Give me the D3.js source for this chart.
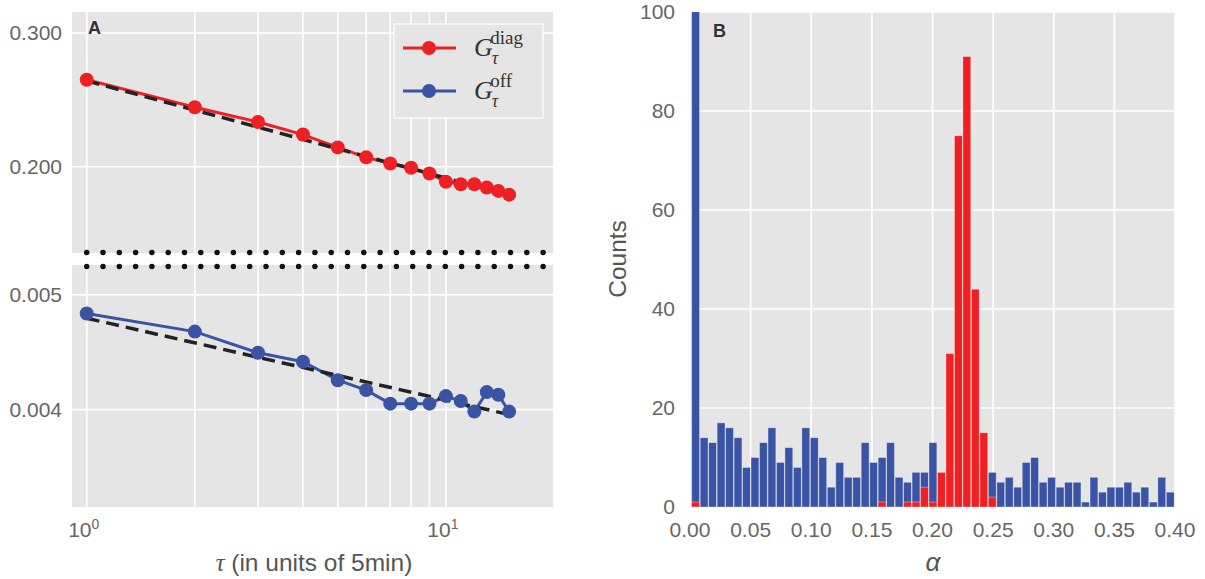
<!DOCTYPE html>
<html>
<head>
<meta charset="utf-8">
<script src="https://cdn.jsdelivr.net/npm/d3@7"></script>
<style>
  body { margin: 0; background: #fff; }
  svg text { font-family: "Liberation Sans", Arial, sans-serif; }
</style>
</head>
<body>
<div id="chart"></div>
<script>
// ---- data ----
// panel A: G_tau against tau (log-log)
var tau = [1, 2, 3, 4, 5, 6, 7, 8, 9, 10, 11, 12, 13, 14, 15];
var gDiag = [0.2603, 0.2395, 0.2291, 0.2205, 0.2121, 0.2058, 0.2020, 0.1994,
             0.1960, 0.1911, 0.1897, 0.1897, 0.1878, 0.1859, 0.1838];
var gOff = [0.004823, 0.004656, 0.004468, 0.004391, 0.004236, 0.004155, 0.004047, 0.004047,
            0.004047, 0.004107, 0.004068, 0.003985, 0.004139, 0.004118, 0.003985];
// power-law fits, end points
var fitTau = [1, 15];
var fitDiag = [0.2595, 0.1835];
var fitOff = [0.004779, 0.003962];
var xTicksA = [1, 10];
var xGridA = [1, 2, 3, 4, 5, 6, 7, 8, 9, 10, 20];
var yTicksTop = [0.3, 0.2];
var yTicksBottom = [0.005, 0.004];

// panel B: histogram of alpha
var binStart = 0.0014, binWidth = 0.00699;
var countsOff = [135, 14, 13, 17, 16, 14, 8, 10, 13, 16, 9, 12, 8, 16, 14, 10, 4, 9, 6, 6,
                 13, 9, 10, 13, 6, 5, 7, 7, 13, 0, 0, 0, 0, 0, 0, 7, 5, 6, 4, 9,
                 10, 5, 6, 4, 5, 5, 1, 6, 3, 4, 4, 5, 3, 4, 1, 6, 3];
var countsDiag = [1, 0, 0, 0, 0, 0, 0, 0, 0, 0, 0, 0, 0, 0, 0, 0, 0, 0, 0, 0,
                  0, 0, 1, 0, 0, 1, 1, 4, 1, 7, 31, 75, 91, 44, 15, 2, 0, 0, 0, 0,
                  0, 0, 0, 0, 0, 0, 0, 0, 0, 0, 0, 0, 0, 0, 0, 0, 0];
var xTicksB = [0, 0.05, 0.10, 0.15, 0.20, 0.25, 0.30, 0.35, 0.40];
var yTicksB = [0, 20, 40, 60, 80, 100];

var red = "#ee2024", blue = "#3a53a4", bg = "#e5e5e5", tickColor = "#666";

var svg = d3.select("#chart").append("svg")
  .attr("width", 1205)
  .attr("height", 579);

// ---- panel A ----
var x = d3.scaleLog().domain([0.91, 20]).range([72, 554]);
var yTop = d3.scaleLog().domain([0.154, 0.3197]).range([253, 12]);
var yBot = d3.scaleLog().domain([0.00331, 0.0053]).range([507, 265]);

function drawSub(y, ticks, fmt, fit, vals, color) {
  var r = y.range();
  svg.append("rect")
    .attr("x", 72).attr("y", r[1])
    .attr("width", 554 - 72).attr("height", r[0] - r[1])
    .attr("fill", bg);
  svg.append("g").selectAll("line").data(xGridA).enter().append("line")
    .attr("x1", d => x(d)).attr("x2", d => x(d))
    .attr("y1", r[1]).attr("y2", r[0])
    .attr("stroke", "#fff").attr("stroke-width", 1.7);
  svg.append("g").selectAll("line").data(ticks).enter().append("line")
    .attr("x1", 72).attr("x2", 554)
    .attr("y1", d => y(d)).attr("y2", d => y(d))
    .attr("stroke", "#fff").attr("stroke-width", 1.7);
  svg.append("g").selectAll("text").data(ticks).enter().append("text")
    .attr("x", 62).attr("y", d => y(d) + 7)
    .attr("text-anchor", "end")
    .attr("font-size", 21).attr("fill", tickColor)
    .text(fmt);

  var line = d3.line().x((d, i) => x(tau[i])).y(d => y(d));
  svg.append("path").datum(vals)
    .attr("d", line)
    .attr("fill", "none").attr("stroke", color).attr("stroke-width", 3);
  svg.append("path").datum(fit)
    .attr("d", d3.line().x((d, i) => x(fitTau[i])).y(d => y(d)))
    .attr("fill", "none").attr("stroke", "#222").attr("stroke-width", 3.5)
    .attr("stroke-dasharray", "13,7");
  svg.append("g").selectAll("circle").data(vals).enter().append("circle")
    .attr("cx", (d, i) => x(tau[i])).attr("cy", d => y(d))
    .attr("r", 7).attr("fill", color);
}

drawSub(yTop, yTicksTop, d3.format(".3f"), fitDiag, gDiag, red);
drawSub(yBot, yTicksBottom, d3.format(".3f"), fitOff, gOff, blue);

// dotted break marks
[252.5, 266.5].forEach(function(yy) {
  svg.append("line")
    .attr("x1", 86.7).attr("x2", 554).attr("y1", yy).attr("y2", yy)
    .attr("stroke", "#111").attr("stroke-width", 5.5)
    .attr("stroke-linecap", "round")
    .attr("stroke-dasharray", "0,16.3");
});

// x tick labels 10^0, 10^1
var xl = svg.append("g").selectAll("text").data(xTicksA).enter().append("text")
  .attr("x", d => x(d) - 3).attr("y", 537)
  .attr("text-anchor", "middle")
  .attr("font-size", 21).attr("fill", tickColor);
xl.append("tspan").text("10");
xl.append("tspan").attr("dy", -8).attr("font-size", 14)
  .text(d => Math.round(Math.log10(d)));

var xlab = svg.append("text")
  .attr("x", 314).attr("y", 571)
  .attr("text-anchor", "middle")
  .attr("font-size", 24.5).attr("fill", "#555");
xlab.append("tspan").attr("font-family", "Liberation Serif").attr("font-style", "italic").text("τ");
xlab.append("tspan").text(" (in units of 5min)");

svg.append("text").attr("x", 88).attr("y", 34)
  .attr("font-size", 18).attr("font-weight", "bold").attr("fill", "#333")
  .text("A");

// legend
var leg = svg.append("g");
leg.append("rect").attr("x", 394).attr("y", 24).attr("width", 149).attr("height", 94)
  .attr("fill", bg).attr("stroke", "#fff").attr("stroke-width", 1.2);
[{c: red, s: "diag", y: 48}, {c: blue, s: "off", y: 91}].forEach(function(e) {
  leg.append("line").attr("x1", 403).attr("x2", 456).attr("y1", e.y).attr("y2", e.y)
    .attr("stroke", e.c).attr("stroke-width", 3);
  leg.append("circle").attr("cx", 429).attr("cy", e.y).attr("r", 7).attr("fill", e.c);
  var t = leg.append("text").attr("x", 474).attr("y", e.y + 8)
    .attr("font-size", 26).attr("fill", "#333");
  t.append("tspan").attr("font-family", "Liberation Serif").attr("font-style", "italic").text("G");
  t.append("tspan").attr("font-family", "Liberation Serif").attr("font-style", "italic")
    .attr("font-size", 18).attr("dx", -1).attr("dy", 8).text("τ");
  t.append("tspan").attr("font-family", "Liberation Serif")
    .attr("font-size", 19).attr("dx", -8).attr("dy", -20).text(e.s);
});

// ---- panel B ----
var xb = d3.scaleLinear().domain([0, 0.4]).range([690, 1175]);
var yb = d3.scaleLinear().domain([0, 100]).range([507, 12]);

svg.append("clipPath").attr("id", "clipB").append("rect")
  .attr("x", 690).attr("y", 12).attr("width", 485).attr("height", 495);
svg.append("rect")
  .attr("x", 690).attr("y", 12).attr("width", 485).attr("height", 495)
  .attr("fill", bg);
svg.append("g").selectAll("line").data(xTicksB).enter().append("line")
  .attr("x1", d => xb(d)).attr("x2", d => xb(d)).attr("y1", 12).attr("y2", 507)
  .attr("stroke", "#fff").attr("stroke-width", 1.7);
svg.append("g").selectAll("line").data(yTicksB).enter().append("line")
  .attr("x1", 690).attr("x2", 1175).attr("y1", d => yb(d)).attr("y2", d => yb(d))
  .attr("stroke", "#fff").attr("stroke-width", 1.7);

var barW = xb(binWidth) - xb(0);
var bars = svg.append("g").attr("clip-path", "url(#clipB)");
function drawBars(counts, color) {
  bars.append("g").selectAll("rect").data(counts).enter().append("rect")
    .attr("x", (d, i) => xb(binStart + i * binWidth))
    .attr("y", d => yb(d))
    .attr("width", barW - 0.6)
    .attr("height", d => yb(0) - yb(d))
    .attr("fill", color)
    .attr("stroke", "rgba(255,255,255,0.45)").attr("stroke-width", 0.8)
    .attr("display", d => d > 0 ? null : "none");
}
drawBars(countsOff, blue);
drawBars(countsDiag, red);

svg.append("g").selectAll("text").data(yTicksB).enter().append("text")
  .attr("x", 675).attr("y", d => yb(d) + 7)
  .attr("text-anchor", "end").attr("font-size", 21).attr("fill", tickColor)
  .text(d => d);
svg.append("g").selectAll("text").data(xTicksB).enter().append("text")
  .attr("x", d => xb(d)).attr("y", 537)
  .attr("text-anchor", "middle").attr("font-size", 21).attr("fill", tickColor)
  .text(d3.format(".2f"));

svg.append("text")
  .attr("transform", "translate(626,259) rotate(-90)")
  .attr("text-anchor", "middle").attr("font-size", 24.5).attr("fill", "#555")
  .text("Counts");
svg.append("text")
  .attr("x", 933).attr("y", 571).attr("text-anchor", "middle")
  .attr("font-family", "Liberation Serif").attr("font-style", "italic")
  .attr("font-size", 26).attr("fill", "#555")
  .text("α");
svg.append("text").attr("x", 713).attr("y", 37)
  .attr("font-size", 18).attr("font-weight", "bold").attr("fill", "#333")
  .text("B");
</script>
</body>
</html>
